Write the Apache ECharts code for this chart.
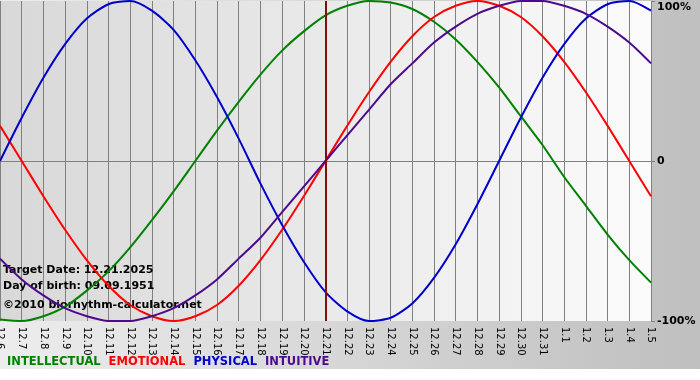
<!DOCTYPE html>
<html>
<head>
<meta charset="utf-8">
<script src="https://cdn.jsdelivr.net/npm/echarts@6/dist/echarts.min.js"></script>
<style>
  html, body { margin: 0; padding: 0; background: #fff; }
  #chart { width: 700px; height: 380px; }
</style>
</head>
<body>
<div id="chart"></div>
<script>
var days = ['12.6','12.7','12.8','12.9','12.10','12.11','12.12','12.13','12.14','12.15','12.16','12.17','12.18','12.19','12.20','12.21','12.22','12.23','12.24','12.25','12.26','12.27','12.28','12.29','12.30','12.31','1.1','1.2','1.3','1.4','1.5'];
var targetDay = '12.21';

// values in percent
var intellectual = [-99,-100,-97,-91,-81,-69,-54,-37,-19,0,19,37,54,69,81,91,97,100,99,95,87,76,62,46,28,10,-10,-28,-46,-62,-76];
var emotional = [22,0,-22,-43,-62,-78,-90,-97,-100,-97,-90,-78,-62,-43,-22,0,22,43,62,78,90,97,100,97,90,78,62,43,22,0,-22];
var physical = [0,27,52,73,89,98,100,94,82,63,40,14,-14,-40,-63,-82,-94,-100,-98,-89,-73,-52,-27,0,27,52,73,89,98,100,94];
var intuitive = [-61,-74,-84,-92,-97,-100,-100,-97,-92,-84,-74,-61,-48,-32,-16,0,16,32,48,61,74,84,92,97,100,100,97,92,84,74,61];

var infoLines = ['Target Date: 12.21.2025', 'Day of birth: 09.09.1951', '©2010 biorhythm-calculator.net'];

var font = 'DejaVu Sans, Verdana, sans-serif';

function line(name, color, data) {
    return {
        name: name,
        type: 'line',
        data: data,
        smooth: 0.25,
        symbol: 'none',
        z: 3,
        lineStyle: { color: color, width: 2 },
        itemStyle: { color: color }
    };
}

var series = [
    line('INTELLECTUAL', '#008000', intellectual),
    line('EMOTIONAL', '#ff0000', emotional),
    line('PHYSICAL', '#0000cc', physical),
    line('INTUITIVE', '#4d0a8c', intuitive)
];
series[0].markLine = {
    silent: true,
    symbol: 'none',
    label: { show: false },
    lineStyle: { color: '#801010', width: 2, type: 'solid' },
    data: [{ xAxis: targetDay }]
};

var option = {
    animation: false,
    backgroundColor: {
        type: 'linear', x: 0, y: 0, x2: 1, y2: 0,
        colorStops: [{ offset: 0, color: '#ededed' }, { offset: 0.93, color: '#c2c2c2' }, { offset: 1, color: '#c0c0c0' }]
    },
    grid: {
        left: 0, right: 49, top: 1, bottom: 59,
        outerBoundsMode: 'none',
        containLabel: false,
        show: true,
        borderWidth: 0,
        backgroundColor: {
            type: 'linear', x: 0, y: 0, x2: 1, y2: 0,
            colorStops: [{ offset: 0, color: '#d8d8d8' }, { offset: 1, color: '#fbfbfb' }]
        }
    },
    legend: {
        left: 2, top: 356, padding: 0,
        icon: 'rect', itemWidth: 0, itemHeight: 0, itemGap: 3,
        selectedMode: false,
        textStyle: { fontFamily: font, fontSize: 11.5, fontWeight: 'bold' },
        data: [
            { name: 'INTELLECTUAL', textStyle: { color: '#008000' } },
            { name: 'EMOTIONAL', textStyle: { color: '#ff0000' } },
            { name: 'PHYSICAL', textStyle: { color: '#0000cc' } },
            { name: 'INTUITIVE', textStyle: { color: '#4d0a8c' } }
        ]
    },
    graphic: [
        { type: 'rect', left: 0, top: 369, shape: { width: 700, height: 11 }, style: { fill: '#ffffff' } },
        { type: 'text', left: 3, top: 265, z: 1, style: { text: infoLines[0], font: 'bold 11px ' + font, fill: '#000' } },
        { type: 'text', left: 3, top: 281, z: 1, style: { text: infoLines[1], font: 'bold 11px ' + font, fill: '#000' } },
        { type: 'text', left: 3, top: 300, z: 1, style: { text: infoLines[2], font: 'bold 11px ' + font, fill: '#000' } }
    ],
    xAxis: {
        type: 'category',
        boundaryGap: false,
        data: days,
        axisLine: { lineStyle: { color: '#808080', width: 1 } },
        axisTick: { show: true, length: 4, lineStyle: { color: '#808080' } },
        axisLabel: { rotate: -90, margin: 6, fontFamily: font, fontSize: 10, color: '#000', interval: 0 },
        splitLine: { show: true, lineStyle: { color: '#808080', width: 1 } }
    },
    yAxis: {
        type: 'value',
        position: 'right',
        min: -100, max: 100, interval: 100,
        axisLine: { show: false },
        axisTick: { show: true, length: 4, lineStyle: { color: '#808080' } },
        splitLine: { show: true, lineStyle: { color: ['rgba(0,0,0,0)', '#808080', 'rgba(0,0,0,0)'], width: 1 } },
        axisLabel: {
            margin: 6,
            fontFamily: font, fontSize: 11, fontWeight: 'bold', color: '#000',
            formatter: function(v) {
                if (v === 100) return '{t|100%}';
                if (v === -100) return '-100%';
                return '0';
            },
            rich: { t: { fontFamily: font, fontSize: 11, fontWeight: 'bold', color: '#000', padding: [12, 0, 0, 0] } }
        }
    },
    series: series
};

var myChart = echarts.init(document.getElementById('chart'));
myChart.setOption(option);
</script>
</body>
</html>
